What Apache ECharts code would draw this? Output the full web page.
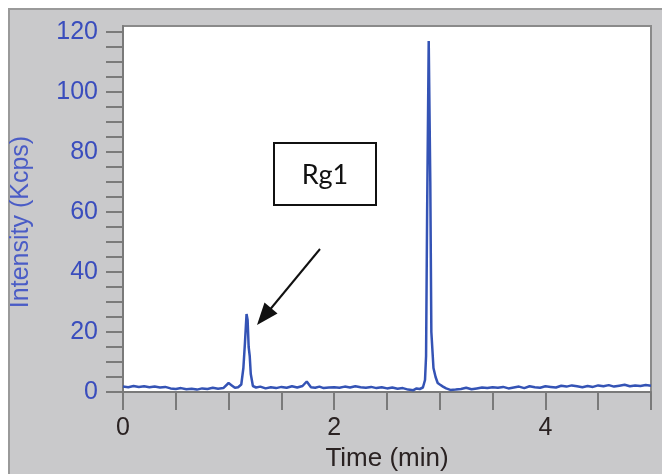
<!DOCTYPE html>
<html>
<head>
<meta charset="utf-8">
<script src="https://cdn.jsdelivr.net/npm/echarts@6/dist/echarts.min.js"></script>
<style>html,body{margin:0;padding:0;background:#fff}#c{width:662px;height:474px}</style>
</head>
<body>
<div id="c"></div>
<script>
// Time (min)
const times = [
  0.00,0.05,0.10,0.15,0.20,0.25,0.30,0.35,0.40,0.45,
  0.50,0.55,0.60,0.65,0.70,0.75,0.80,0.85,0.90,0.95,
  1.00,1.03,1.06,1.09,1.12,1.14,1.155,1.17,1.18,1.19,
  1.20,1.21,1.23,1.26,1.30,1.35,1.40,1.45,1.50,1.55,
  1.60,1.65,1.70,1.74,1.78,1.82,1.86,1.90,1.95,2.00,
  2.05,2.10,2.15,2.20,2.25,2.30,2.35,2.40,2.45,2.50,
  2.55,2.60,2.65,2.70,2.75,2.78,2.81,2.84,2.86,2.87,
  2.88,2.895,2.91,2.92,2.94,2.96,2.98,3.00,3.03,3.06,
  3.10,3.15,3.20,3.25,3.30,3.35,3.40,3.45,3.50,3.55,
  3.60,3.65,3.70,3.75,3.80,3.85,3.90,3.95,4.00,4.05,
  4.10,4.15,4.20,4.25,4.30,4.35,4.40,4.45,4.50,4.55,
  4.60,4.65,4.70,4.75,4.80,4.85,4.90,4.95,5.00
];
// Intensity (Kcps)
const intensity = [
  1.8,1.6,2.0,1.7,1.9,1.6,1.8,1.5,1.7,1.2,
  1.0,1.3,0.9,1.1,0.8,1.2,1.0,1.4,1.1,1.3,
  3.0,2.2,1.4,1.6,2.5,8.0,16.5,26.0,24.0,15.0,
  12.0,6.0,2.0,1.5,1.8,1.2,1.6,1.3,1.7,1.4,
  1.9,1.5,2.0,3.5,1.6,1.4,1.8,1.3,1.5,1.6,
  1.4,1.8,1.5,1.9,1.6,1.4,1.7,1.3,1.6,1.2,
  1.5,1.1,1.3,0.8,0.6,1.2,1.0,1.5,4.0,12.0,
  60.0,117.0,70.0,20.0,8.0,5.0,3.0,2.5,1.8,1.2,
  0.7,0.8,1.0,1.4,0.9,1.2,1.5,1.3,1.6,1.4,
  1.7,1.2,1.5,1.8,1.3,1.9,1.6,1.4,1.9,1.7,
  1.5,2.1,1.8,2.2,1.9,1.6,2.0,1.7,2.2,1.9,
  2.3,1.8,2.1,2.4,1.9,2.2,2.0,2.3,2.1
];
const xLabels = [0, 2, 4];
const yLabels = [0, 20, 40, 60, 80, 100, 120];
const annotationText = 'Rg1';

const seriesData = times.map((t, i) => [t, intensity[i]]);
const chart = echarts.init(document.getElementById('c'), null, {renderer: 'canvas'});
const axisGray = '#7a7a7a';
chart.setOption({
  backgroundColor: '#ffffff',
  animation: false,
  graphic: [
    {type: 'rect', z: -10, silent: true,
     shape: {x: 9, y: 9, width: 700, height: 500},
     style: {fill: '#c9c9cb', stroke: '#9a9a9a', lineWidth: 2}},
    {type: 'rect', z: 100,
     shape: {x: 274, y: 143, width: 102, height: 62},
     style: {fill: '#ffffff', stroke: '#111', lineWidth: 2}},
    {type: 'text', z: 101, x: 325, y: 175,
     style: {text: annotationText, fill: '#111', font: '27px Lato, "Open Sans", sans-serif', align: 'center', verticalAlign: 'middle'}},
    {type: 'line', z: 100,
     shape: {x1: 320, y1: 249, x2: 268, y2: 312},
     style: {stroke: '#111', lineWidth: 2}},
    {type: 'polygon', z: 100,
     shape: {points: [[257, 325], [264.5, 302.5], [277.5, 313.5]]},
     style: {fill: '#111'}}
  ],
  grid: {
    left: 123, right: 11, top: 26, bottom: 82,
    outerBoundsMode: 'none', containLabel: false,
    show: true, backgroundColor: '#ffffff', borderColor: '#8a8a8a', borderWidth: 2
  },
  xAxis: {
    type: 'value', min: 0, max: 5, interval: 0.5,
    name: 'Time (min)', nameLocation: 'middle', nameGap: 54,
    nameTextStyle: {color: '#2a2222', fontSize: 26, fontFamily: '"Liberation Sans", Arial, sans-serif'},
    axisLine: {show: true, onZero: false, lineStyle: {color: axisGray, width: 2}},
    axisTick: {show: true, length: 18, lineStyle: {color: axisGray, width: 2}},
    splitLine: {show: false},
    axisLabel: {
      margin: 24, color: '#2a2222', fontSize: 25, fontFamily: '"Liberation Sans", Arial, sans-serif',
      formatter: v => xLabels.includes(Math.round(v * 100) / 100) ? String(v) : ''
    }
  },
  yAxis: {
    type: 'value', min: 0, max: 122, interval: 5,
    name: 'Intensity (Kcps)', nameLocation: 'middle', nameGap: 89,
    nameTextStyle: {color: '#4a5cc6', fontSize: 25, fontFamily: '"Liberation Sans", Arial, sans-serif', padding: [0, 26, 0, 0]},
    axisLine: {show: true, lineStyle: {color: axisGray, width: 2}},
    axisTick: {show: true, length: 17, lineStyle: {color: axisGray, width: 2}},
    splitLine: {show: false},
    axisLabel: {
      margin: 25, color: '#3a4dbd', fontSize: 25, fontFamily: '"Liberation Sans", Arial, sans-serif',
      showMaxLabel: false,
      formatter: v => yLabels.includes(v) ? String(v) : ''
    }
  },
  series: [{
    type: 'line', data: seriesData, showSymbol: false, symbol: 'none',
    lineStyle: {color: '#3453b5', width: 2.5}, z: 5
  }]
});
</script>
</body>
</html>
